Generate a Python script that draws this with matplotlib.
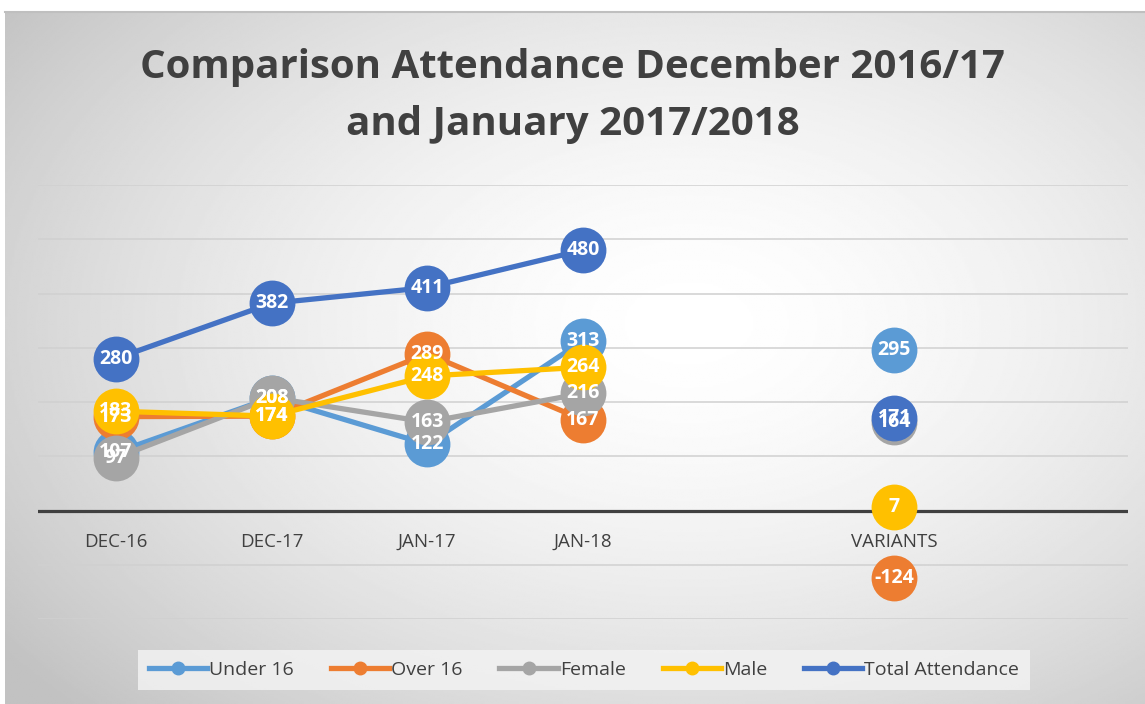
import numpy as np
import matplotlib
matplotlib.use("Agg")
import matplotlib.pyplot as plt

categories = ["DEC-16", "DEC-17", "JAN-17", "JAN-18", "", "VARIANTS", ""]
nan = np.nan
under_16 = [107, 208, 122, 313, nan, 295, nan]
over_16 = [173, 174, 289, 167, nan, -124, nan]
female = [97, 208, 163, 216, nan, 164, nan]
male = [183, 174, 248, 264, nan, 7, nan]
total = [280, 382, 411, 480, nan, 171, nan]

series = [
    ("Under 16", under_16, "#5B9BD5"),
    ("Over 16", over_16, "#ED7D31"),
    ("Female", female, "#A5A5A5"),
    ("Male", male, "#FFC000"),
    ("Total Attendance", total, "#4472C4"),
]

W, H = 1145, 704
fig = plt.figure(figsize=(W / 100, H / 100), dpi=100)
fig.patch.set_facecolor("white")

# radial grey gradient behind the chart
bg = fig.add_axes([5 / W, 0, 1140 / W, 692 / H], zorder=-5)
yy, xx = np.mgrid[0:1:400j, 0:1:600j]
r = np.sqrt(((xx - 0.6) / 0.75) ** 2 + ((yy - 0.45) / 0.8) ** 2)
shade = 1.0 - 0.24 * np.clip(r, 0, 1) ** 1.6
bg.imshow(shade, cmap="gray", vmin=0, vmax=1, aspect="auto", extent=[0, 1, 0, 1], origin="upper")
bg.set_xticks([])
bg.set_yticks([])
for s in bg.spines.values():
    s.set_visible(False)
bg.spines["top"].set_visible(True)
bg.spines["top"].set_color("#bfbfbf")
bg.spines["top"].set_linewidth(1.5)

ax = fig.add_axes([38 / W, 1 - 619 / H, 1090 / W, (619 - 185) / H])
ax.patch.set_alpha(0)
x = np.arange(len(categories))
ax.set_xlim(-0.5, len(categories) - 0.5)
ax.set_ylim(-200, 600)
for v in range(-200, 601, 100):
    if v == 0:
        ax.axhline(0, color="#404040", lw=2.3, zorder=1)
    else:
        ax.axhline(v, color="#d0d0d0", lw=1.1, zorder=0)
ax.set_xticks([])
ax.set_yticks([])
for s in ax.spines.values():
    s.set_visible(False)

for i, (name, vals, col) in enumerate(series):
    ax.plot(x, vals, color=col, lw=3.8, marker="o", markersize=33,
            markeredgewidth=0, solid_capstyle="round", zorder=3 + i, label=name)

for name, vals, col in series:
    for xi, v in zip(x, vals):
        if np.isnan(v):
            continue
        ax.text(xi, v, f"{v:g}", ha="center", va="center", color="white",
                fontsize=14, fontweight="bold", family="Open Sans", zorder=20)

for xi, c in zip(x, categories):
    ax.annotate(c, (xi, 0), xytext=(0, -22.5), textcoords="offset points",
                ha="center", va="center", fontsize=13.5, color="#404040", family="Open Sans")

fig.text(0.5, 1 - 96 / H, "Comparison Attendance December 2016/17\nand January 2017/2018",
         ha="center", va="center", fontsize=29, fontweight="bold", color="#404040",
         family="Open Sans", linespacing=1.6)

handles = [plt.Line2D([], [], color=c, lw=3.8, marker="o", markersize=9) for _, _, c in series]
leg = fig.legend(handles, [s[0] for s in series], loc="center", ncol=5,
                 bbox_to_anchor=(584 / W, 1 - 670 / H), frameon=True, fancybox=False,
                 handlelength=3.0, handletextpad=0.1, columnspacing=1.9,
                 prop={"family": "Open Sans", "size": 14}, borderpad=0.55)
leg.get_frame().set_facecolor("#f2f2f2")
leg.get_frame().set_edgecolor("none")
leg.get_frame().set_alpha(0.85)
for t in leg.get_texts():
    t.set_color("#404040")

fig.savefig("out.png", dpi=100)
